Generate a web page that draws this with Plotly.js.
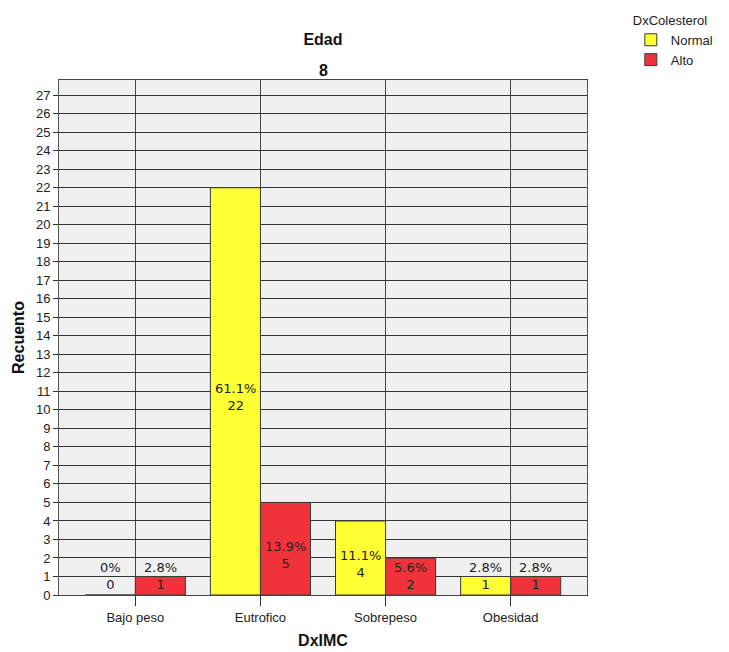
<!DOCTYPE html>
<html>
<head>
<meta charset="utf-8">
<script src="https://cdn.plot.ly/plotly-3.0.1.min.js"></script>
<style>html,body{margin:0;padding:0;background:#fff;}#chart{width:729px;height:652px;}</style>
</head>
<body>
<div id="chart"></div>
<script>
const categories = ['Bajo peso', 'Eutrofico', 'Sobrepeso', 'Obesidad'];
const normalCounts = [0, 22, 4, 1];
const altoCounts = [1, 5, 2, 1];
const normalPct = ['0%', '61.1%', '11.1%', '2.8%'];
const altoPct = ['2.8%', '13.9%', '5.6%', '2.8%'];
const yTicks = Array.from({length: 28}, (_, i) => i);

const font = 'Liberation Sans, Arial, sans-serif';
const barLine = {color: '#3a3a3a', width: 1};

const traces = [
  {type: 'bar', name: 'Normal', x: categories, y: normalCounts,
   marker: {color: '#ffff33', line: barLine}, hoverinfo: 'none'},
  {type: 'bar', name: 'Alto', x: categories, y: altoCounts,
   marker: {color: '#f0333b', line: barLine}, hoverinfo: 'none'}
];

const annotations = [];
function addLabels(counts, pcts, offset) {
  counts.forEach((v, i) => {
    annotations.push({
      x: i + offset, y: Math.max(v / 2, 1), xref: 'x', yref: 'y',
      text: pcts[i] + '<br>' + v, showarrow: false, yshift: v > 2 ? -6 : 0,
      font: {family: 'DejaVu Sans, sans-serif', size: 13, color: '#222'},
      align: 'center'
    });
  });
}
addLabels(normalCounts, normalPct, -0.2);
addLabels(altoCounts, altoPct, 0.2);
annotations.push({
  text: '<b>8</b>', xref: 'paper', yref: 'paper', x: 0.5, y: 1.019,
  xanchor: 'center', yanchor: 'middle', showarrow: false,
  font: {family: font, size: 16, color: '#111'}
});

const layout = {
  width: 729, height: 652,
  margin: {l: 59, r: 142, t: 80, b: 57, autoexpand: false},
  paper_bgcolor: '#ffffff', plot_bgcolor: '#f0f0f0',
  barmode: 'group', bargap: 0.2, bargroupgap: 0,
  title: {text: '<b>Edad</b>', x: 0.443, xanchor: 'center', y: 1 - 39/652, yanchor: 'middle',
          font: {family: font, size: 16, color: '#111'}},
  font: {family: font, size: 13, color: '#222'},
  xaxis: {
    type: 'category', range: [-0.61, 3.61],
    showgrid: true, gridcolor: '#444', gridwidth: 1,
    ticks: 'outside', ticklen: 10, tickcolor: '#333',
    showline: true, linecolor: '#444', mirror: true,
    tickfont: {family: font, size: 13, color: '#222'},
    title: {text: '<b>DxIMC</b>', standoff: 11, font: {family: font, size: 16, color: '#111'}}
  },
  yaxis: {
    range: [0, 27.82], tickvals: yTicks, ticktext: yTicks.map(String),
    showgrid: true, gridcolor: '#333', gridwidth: 1,
    ticks: 'outside', ticklen: 5, tickcolor: '#333',
    showline: true, linecolor: '#555', mirror: true, zeroline: false,
    tickfont: {family: font, size: 13, color: '#222'},
    title: {text: '<b>Recuento</b>', standoff: 7, font: {family: font, size: 16, color: '#111'}}
  },
  legend: {
    x: 1.083, y: 1.14, xanchor: 'left', yanchor: 'top',
    title: {text: 'DxColesterol', font: {family: font, size: 13, color: '#222'}},
    font: {family: font, size: 13, color: '#222'},
    tracegroupgap: 0, itemwidth: 30
  },
  annotations: annotations,
  showlegend: true
};

Plotly.newPlot('chart', traces, layout, {displayModeBar: false, staticPlot: true});
</script>
</body>
</html>
